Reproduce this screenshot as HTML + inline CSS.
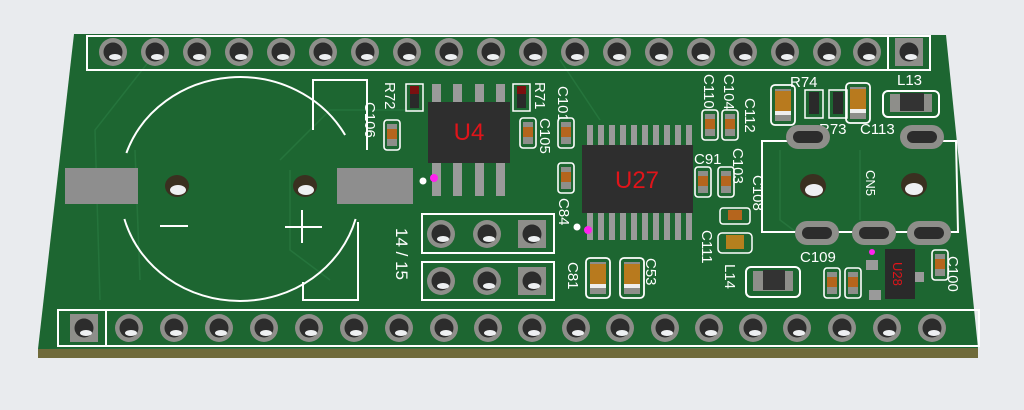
<!DOCTYPE html>
<html><head><meta charset="utf-8"><style>
html,body{margin:0;padding:0;background:#e9ebee;}
svg{display:block}
text{font-family:"Liberation Sans",sans-serif;}
</style></head><body>
<svg width="1024" height="410" viewBox="0 0 1024 410" xmlns="http://www.w3.org/2000/svg">
<defs>
<g id="pin"><circle r="14" fill="#8e8e8a"/><circle r="9.5" fill="#2c2c2c"/><ellipse cx="2" cy="5" rx="6" ry="3" fill="#eef0f2"/></g>
<g id="spin"><rect x="-14" y="-14" width="28" height="28" fill="#8e8e8a"/><circle r="9.5" fill="#2c2c2c"/><ellipse cx="2" cy="5" rx="6" ry="3" fill="#eef0f2"/></g>
<g id="oval"><rect x="-22" y="-12" width="44" height="24" rx="12" fill="#8e8e8a"/><rect x="-15" y="-6" width="30" height="12" rx="6" fill="#2c2c2c"/></g>
<g id="cap"><rect x="-8" y="-15" width="16" height="30" rx="3" fill="none" stroke="#fff" stroke-width="1.6"/><rect x="-5" y="-11" width="10" height="22" fill="#8e8e8a"/><rect x="-5" y="-6" width="10" height="10" fill="#b5651d"/></g>
<g id="bcap"><rect x="-12" y="-20" width="24" height="40" rx="4" fill="none" stroke="#fff" stroke-width="1.8"/><rect x="-8" y="-16" width="16" height="32" fill="#8e8e8a"/><rect x="-8" y="-14" width="16" height="20" fill="#b87a1e"/><rect x="-8" y="6" width="16" height="4" fill="#eee"/></g>
</defs>
<polygon points="38,349 978,348 978,358 38,358" fill="#6f6a3a"/>
<polygon points="74,34 946,35 978,348 38,349" fill="#1d6631"/>
<g stroke="#2a7a42" stroke-width="1.5" fill="none" opacity="0.7">
<polyline points="100,300 95,130 150,60"/>
<polyline points="140,280 135,150"/>
<polyline points="280,160 330,110 420,110"/>
<polyline points="290,170 290,250 330,280"/>
<polyline points="560,60 600,120"/>
<polyline points="780,150 780,220 800,235"/>
<polyline points="860,150 860,220"/>
</g>
<rect x="87" y="36" width="843" height="34" fill="none" stroke="#fff" stroke-width="2"/>
<line x1="888" y1="36" x2="888" y2="70" stroke="#fff" stroke-width="2"/>
<g>
<use href="#pin" x="113" y="52"/><use href="#pin" x="155" y="52"/><use href="#pin" x="197" y="52"/><use href="#pin" x="239" y="52"/><use href="#pin" x="281" y="52"/><use href="#pin" x="323" y="52"/><use href="#pin" x="365" y="52"/><use href="#pin" x="407" y="52"/><use href="#pin" x="449" y="52"/><use href="#pin" x="491" y="52"/><use href="#pin" x="533" y="52"/><use href="#pin" x="575" y="52"/><use href="#pin" x="617" y="52"/><use href="#pin" x="659" y="52"/><use href="#pin" x="701" y="52"/><use href="#pin" x="743" y="52"/><use href="#pin" x="785" y="52"/><use href="#pin" x="827" y="52"/><use href="#pin" x="867" y="52"/><use href="#spin" x="909" y="52"/>
</g>
<rect x="58" y="310" width="921" height="36" fill="none" stroke="#fff" stroke-width="2"/>
<line x1="106" y1="310" x2="106" y2="346" stroke="#fff" stroke-width="2"/>
<g>
<use href="#spin" x="84" y="328"/><use href="#pin" x="129" y="328"/><use href="#pin" x="174" y="328"/><use href="#pin" x="219" y="328"/><use href="#pin" x="264" y="328"/><use href="#pin" x="309" y="328"/><use href="#pin" x="354" y="328"/><use href="#pin" x="399" y="328"/><use href="#pin" x="444" y="328"/><use href="#pin" x="488" y="328"/><use href="#pin" x="532" y="328"/><use href="#pin" x="576" y="328"/><use href="#pin" x="620" y="328"/><use href="#pin" x="665" y="328"/><use href="#pin" x="709" y="328"/><use href="#pin" x="753" y="328"/><use href="#pin" x="797" y="328"/><use href="#pin" x="842" y="328"/><use href="#pin" x="887" y="328"/><use href="#pin" x="932" y="328"/>
</g>
<!-- battery -->
<path d="M126.4,153 A120,112 0 0 1 345.1,135" fill="none" stroke="#fff" stroke-width="2"/>
<path d="M124.4,219 A120,112 0 0 0 355.6,219" fill="none" stroke="#fff" stroke-width="2"/>
<polyline points="313,130 313,80 367,80 367,150" fill="none" stroke="#fff" stroke-width="2"/>
<polyline points="303,282 303,300 358,300 358,222" fill="none" stroke="#fff" stroke-width="2"/>
<rect x="65" y="168" width="73" height="36" fill="#8e8e8e"/>
<rect x="337" y="168" width="76" height="36" fill="#8e8e8e"/>
<ellipse cx="177" cy="186" rx="12" ry="11" fill="#3a3020"/><ellipse cx="178" cy="190" rx="8" ry="5" fill="#eef0f2"/>
<ellipse cx="305" cy="186" rx="12" ry="11" fill="#3a3020"/><ellipse cx="306" cy="190" rx="8" ry="5" fill="#eef0f2"/>
<line x1="160" y1="226" x2="188" y2="226" stroke="#fff" stroke-width="2"/>
<line x1="285" y1="227" x2="322" y2="227" stroke="#fff" stroke-width="2"/>
<line x1="302" y1="210" x2="302" y2="243" stroke="#fff" stroke-width="2"/>
<g fill="#9a9a9a"><rect x="432" y="84" width="9" height="18"/><rect x="453" y="84" width="9" height="18"/><rect x="475" y="84" width="9" height="18"/><rect x="496" y="84" width="9" height="18"/>
<rect x="432" y="162" width="9" height="34"/><rect x="453" y="162" width="9" height="34"/><rect x="475" y="162" width="9" height="34"/><rect x="496" y="162" width="9" height="34"/></g>
<rect x="428" y="102" width="82" height="61" fill="#2e2e2e"/>
<text x="469" y="140" font-size="24" fill="#e0141a" text-anchor="middle">U4</text>
<circle cx="423" cy="181" r="3.5" fill="#fff"/><circle cx="434" cy="178" r="4" fill="#ff22ee"/>
<rect x="406" y="84" width="17" height="27" fill="none" stroke="#fff" stroke-width="1.5"/><rect x="410" y="86" width="9" height="22" fill="#2a2a2a"/><rect x="410" y="86" width="9" height="8" fill="#7a1010"/>
<rect x="513" y="84" width="17" height="27" fill="none" stroke="#fff" stroke-width="1.5"/><rect x="517" y="86" width="9" height="22" fill="#2a2a2a"/><rect x="517" y="86" width="9" height="8" fill="#7a1010"/>
<use href="#cap" x="392" y="135"/><use href="#cap" x="528" y="133"/><use href="#cap" x="566" y="133"/><use href="#cap" x="566" y="178"/>
<g font-size="15" fill="#fff">
<text transform="translate(385,82) rotate(90)">R72</text>
<text transform="translate(365,102) rotate(90)">C106</text>
<text transform="translate(535,82) rotate(90)">R71</text>
<text transform="translate(558,86) rotate(90)">C101</text>
<text transform="translate(540,118) rotate(90)">C105</text>
<text transform="translate(559,198) rotate(90)">C84</text>
<text transform="translate(396,228) rotate(90)" font-size="17">14 / 15</text>
</g>
<rect x="422" y="214" width="132" height="39" fill="none" stroke="#fff" stroke-width="2"/>
<rect x="422" y="262" width="132" height="38" fill="none" stroke="#fff" stroke-width="2"/>
<use href="#pin" x="441" y="234"/><use href="#pin" x="487" y="234"/><use href="#spin" x="532" y="234"/>
<use href="#pin" x="441" y="281"/><use href="#pin" x="487" y="281"/><use href="#spin" x="532" y="281"/>
<g fill="#9a9a9a">
<rect x="587" y="125" width="6" height="22"/><rect x="598" y="125" width="6" height="22"/><rect x="609" y="125" width="6" height="22"/><rect x="620" y="125" width="6" height="22"/><rect x="631" y="125" width="6" height="22"/><rect x="642" y="125" width="6" height="22"/><rect x="653" y="125" width="6" height="22"/><rect x="664" y="125" width="6" height="22"/><rect x="675" y="125" width="6" height="22"/><rect x="686" y="125" width="6" height="22"/>
<rect x="587" y="212" width="6" height="28"/><rect x="598" y="212" width="6" height="28"/><rect x="609" y="212" width="6" height="28"/><rect x="620" y="212" width="6" height="28"/><rect x="631" y="212" width="6" height="28"/><rect x="642" y="212" width="6" height="28"/><rect x="653" y="212" width="6" height="28"/><rect x="664" y="212" width="6" height="28"/><rect x="675" y="212" width="6" height="28"/><rect x="686" y="212" width="6" height="28"/></g>
<rect x="582" y="145" width="111" height="68" fill="#2e2e2e"/>
<text x="637" y="188" font-size="24" fill="#e0141a" text-anchor="middle">U27</text>
<circle cx="577" cy="227" r="3.5" fill="#fff"/><circle cx="588" cy="230" r="4" fill="#ff22ee"/>
<use href="#bcap" x="598" y="278"/><use href="#bcap" x="632" y="278"/>
<g font-size="15" fill="#fff">
<text transform="translate(568,262) rotate(90)">C81</text>
<text transform="translate(646,258) rotate(90)">C53</text>
</g>
<use href="#cap" x="710" y="125"/><use href="#cap" x="730" y="125"/><use href="#cap" x="703" y="182"/><use href="#cap" x="726" y="182"/>
<rect x="720" y="208" width="30" height="16" rx="3" fill="none" stroke="#fff" stroke-width="1.5"/><rect x="728" y="210" width="14" height="10" fill="#b5651d"/>
<rect x="718" y="233" width="34" height="20" rx="4" fill="none" stroke="#fff" stroke-width="1.5"/><rect x="726" y="235" width="18" height="14" fill="#b5801e"/>
<g font-size="15" fill="#fff">
<text transform="translate(704,74) rotate(90)">C110</text>
<text transform="translate(724,74) rotate(90)">C104</text>
<text transform="translate(745,98) rotate(90)">C112</text>
<text x="694" y="164">C91</text>
<text transform="translate(733,148) rotate(90)">C103</text>
<text transform="translate(753,175) rotate(90)">C108</text>
<text transform="translate(702,230) rotate(90)">C111</text>
<text transform="translate(725,264) rotate(90)">L14</text>
<text x="790" y="87">R74</text>
<text x="819" y="134">R73</text>
<text x="860" y="134">C113</text>
<text x="897" y="85">L13</text>
<text x="800" y="262">C109</text>
<text transform="translate(948,256) rotate(90)">C100</text>
<text transform="translate(866,170) rotate(90)" font-size="13">CN5</text>
</g>
<use href="#bcap" x="783" y="105"/><use href="#bcap" x="858" y="103"/>
<rect x="805" y="90" width="18" height="28" fill="none" stroke="#fff" stroke-width="1.5"/><rect x="809" y="92" width="10" height="22" fill="#2a2a2a"/>
<rect x="829" y="90" width="18" height="28" fill="none" stroke="#fff" stroke-width="1.5"/><rect x="833" y="92" width="10" height="22" fill="#2a2a2a"/>
<rect x="883" y="91" width="56" height="26" rx="5" fill="none" stroke="#fff" stroke-width="2"/><rect x="890" y="94" width="42" height="18" fill="#8e8e8a"/><rect x="900" y="93" width="24" height="18" fill="#333"/>
<polyline points="816,141 762,141 762,232 958,232 956,141 940,141" fill="none" stroke="#fff" stroke-width="2"/>
<use href="#oval" x="808" y="137"/><use href="#oval" x="922" y="137"/>
<use href="#oval" x="817" y="233"/><use href="#oval" x="874" y="233"/><use href="#oval" x="929" y="233"/>
<ellipse cx="813" cy="186" rx="13" ry="12" fill="#3a3020"/><ellipse cx="814" cy="190" rx="9" ry="6" fill="#eef0f2"/>
<ellipse cx="914" cy="185" rx="13" ry="12" fill="#3a3020"/><ellipse cx="914" cy="189" rx="9" ry="6" fill="#eef0f2"/>
<rect x="746" y="267" width="54" height="30" rx="5" fill="none" stroke="#fff" stroke-width="2"/><rect x="753" y="271" width="40" height="20" fill="#8e8e8a"/><rect x="763" y="270" width="22" height="20" fill="#333"/>
<use href="#cap" x="832" y="283"/><use href="#cap" x="853" y="283"/><use href="#cap" x="940" y="265"/>
<rect x="866" y="260" width="12" height="10" fill="#9a9a9a"/><rect x="869" y="290" width="12" height="10" fill="#9a9a9a"/><rect x="914" y="272" width="10" height="10" fill="#9a9a9a"/>
<rect x="885" y="249" width="30" height="50" fill="#2a2a2a"/>
<text transform="translate(893,262) rotate(90)" font-size="13" fill="#e0141a">U28</text>
<circle cx="872" cy="252" r="3" fill="#ff22ee"/>
</svg>
</body></html>
